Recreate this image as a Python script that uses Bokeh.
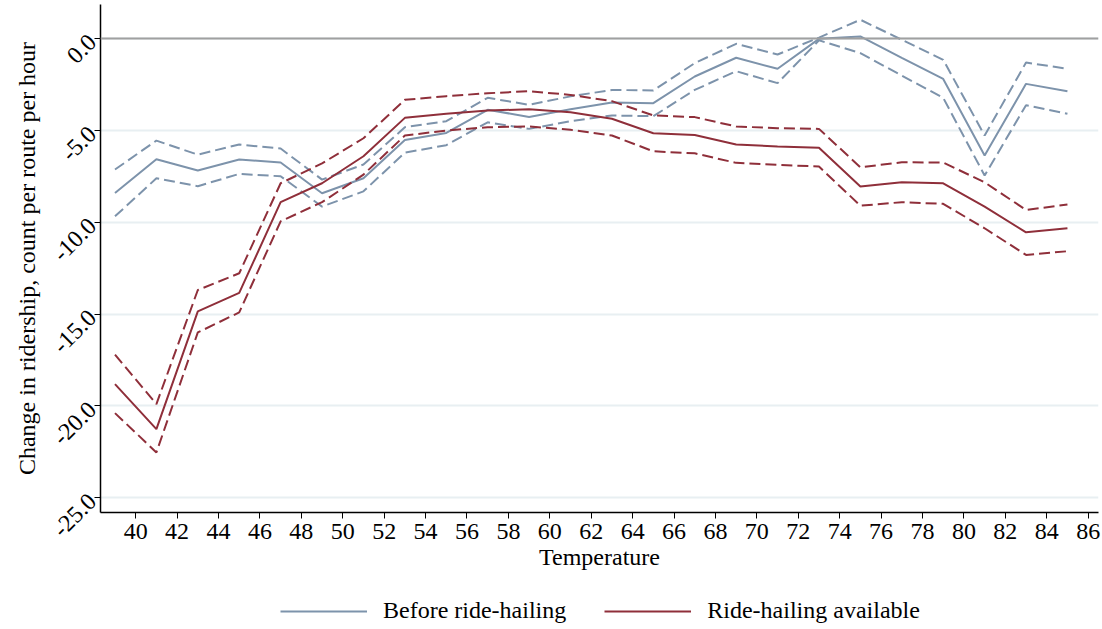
import math
from bokeh.plotting import figure
from bokeh.layouts import column
from bokeh.models import Span, Legend, LegendItem, FixedTicker, PrintfTickFormatter
from bokeh.embed import file_html
from bokeh.resources import INLINE

temperature = [39, 41, 43, 45, 47, 49, 51, 53, 55, 57, 59, 61, 63, 65, 67, 69, 71, 73, 75, 77, 79, 81, 83, 85]

before_est = [-8.41, -6.57, -7.19, -6.59, -6.75, -8.42, -7.61, -5.52, -5.14, -3.88, -4.27, -3.85,
              -3.49, -3.52, -2.07, -1.05, -1.65, -0.02, 0.11, -1.05, -2.20, -6.37, -2.47, -2.87]
before_hi = [-7.13, -5.56, -6.32, -5.77, -5.99, -7.68, -6.86, -4.83, -4.50, -3.23, -3.61, -3.15,
             -2.80, -2.83, -1.34, -0.29, -0.87, 0.05, 1.02, -0.07, -1.16, -5.28, -1.31, -1.65]
before_lo = [-9.68, -7.61, -8.04, -7.37, -7.50, -9.15, -8.32, -6.21, -5.81, -4.56, -4.92, -4.50,
             -4.19, -4.23, -2.80, -1.78, -2.43, -0.10, -0.80, -2.02, -3.23, -7.46, -3.63, -4.10]

ride_est = [-18.81, -21.26, -14.85, -13.85, -8.91, -7.88, -6.41, -4.32, -4.10, -3.92, -3.85, -4.01,
            -4.37, -5.16, -5.25, -5.77, -5.88, -5.95, -8.06, -7.83, -7.88, -9.15, -10.55, -10.33]
ride_hi = [-17.21, -19.90, -13.69, -12.78, -7.88, -6.80, -5.43, -3.34, -3.14, -2.98, -2.87, -3.07,
           -3.41, -4.19, -4.28, -4.79, -4.88, -4.92, -7.01, -6.74, -6.75, -7.83, -9.33, -9.04]
ride_lo = [-20.39, -22.53, -16.00, -14.91, -9.95, -8.91, -7.41, -5.28, -5.01, -4.83, -4.79, -4.97,
           -5.28, -6.14, -6.25, -6.77, -6.88, -6.97, -9.10, -8.91, -9.00, -10.33, -11.78, -11.58]

x_ticks = list(range(40, 87, 2))
y_ticks = [0, -5, -10, -15, -20, -25]

series_names = ["Before ride-hailing", "Ride-hailing available"]
BLUE = "#7d93ab"
RED = "#8f2f3a"
FONT = "Liberation Serif"
FS = "24px"

p = figure(width=1102, height=582, output_backend="svg", toolbar_location=None,
           x_range=(38.3, 86.5), y_range=(-25.8, 1.85),
           min_border_left=100, min_border_right=4, min_border_top=4, min_border_bottom=70)
p.outline_line_color = None
p.background_fill_color = "white"
p.border_fill_color = "white"

p.xgrid.visible = False
p.ygrid.ticker = FixedTicker(ticks=y_ticks)
p.ygrid.grid_line_color = "#e8eff2"
p.ygrid.grid_line_width = 2

zero = Span(location=0, dimension="width", line_color="#a0a0a0", line_width=2)
p.add_layout(zero)

p.line(temperature, before_est, line_color=BLUE, line_width=2)
p.line(temperature, before_hi, line_color=BLUE, line_width=2, line_dash="11 5")
p.line(temperature, before_lo, line_color=BLUE, line_width=2, line_dash="11 5")
p.line(temperature, ride_est, line_color=RED, line_width=2)
p.line(temperature, ride_hi, line_color=RED, line_width=2, line_dash="11 5")
p.line(temperature, ride_lo, line_color=RED, line_width=2, line_dash="11 5")

for ax in (p.xaxis[0], p.yaxis[0]):
    ax.axis_line_color = "black"
    ax.axis_line_width = 1.5
    ax.major_tick_line_color = "black"
    ax.major_tick_out = 6
    ax.major_tick_in = 0
    ax.minor_tick_line_color = None
    ax.major_label_text_font = FONT
    ax.major_label_text_font_size = FS
    ax.major_label_text_color = "black"
    ax.axis_label_text_font = FONT
    ax.axis_label_text_font_size = FS
    ax.axis_label_text_font_style = "normal"
    ax.axis_label_text_color = "black"

p.xaxis.ticker = FixedTicker(ticks=x_ticks)
p.xaxis.axis_label = "Temperature"
p.xaxis.axis_label_standoff = 2
p.xaxis.major_label_standoff = 5

p.yaxis.ticker = FixedTicker(ticks=y_ticks)
p.yaxis.formatter = PrintfTickFormatter(format="%.1f")
p.yaxis.major_label_orientation = math.pi / 4
p.yaxis.axis_label = "Change in ridership, count per route per hour"
p.yaxis.axis_label_standoff = 4
p.yaxis.major_label_standoff = 2

# legend strip below the chart (its frame is aligned with the chart's frame)
q = figure(width=1102, height=47, output_backend="svg", toolbar_location=None,
           x_axis_location=None, y_axis_location=None,
           x_range=(0, 1), y_range=(0, 1),
           min_border_left=0, min_border_right=0, min_border_top=0, min_border_bottom=0)
q.outline_line_color = None
q.xgrid.visible = False
q.ygrid.visible = False
# legend-only renderers: their points lie outside the strip's visible range
r_b = q.line([-5, -4], [-5, -4], line_color=BLUE, line_width=2)
r_r = q.line([-5, -4], [-5, -4], line_color=RED, line_width=2)

legend = Legend(items=[LegendItem(label=series_names[0], renderers=[r_b]),
                       LegendItem(label=series_names[1], renderers=[r_r])],
                orientation="horizontal", location=(180, 5))
legend.label_text_font = FONT
legend.label_text_font_size = FS
legend.label_text_color = "black"
legend.border_line_color = None
legend.background_fill_alpha = 0
legend.glyph_width = 87
legend.spacing = 38
legend.label_standoff = 16
legend.margin = 0
legend.padding = 0
q.add_layout(legend, "center")

layout = column(p, q, spacing=0)
open("out.html", "w").write(file_html(layout, INLINE))
